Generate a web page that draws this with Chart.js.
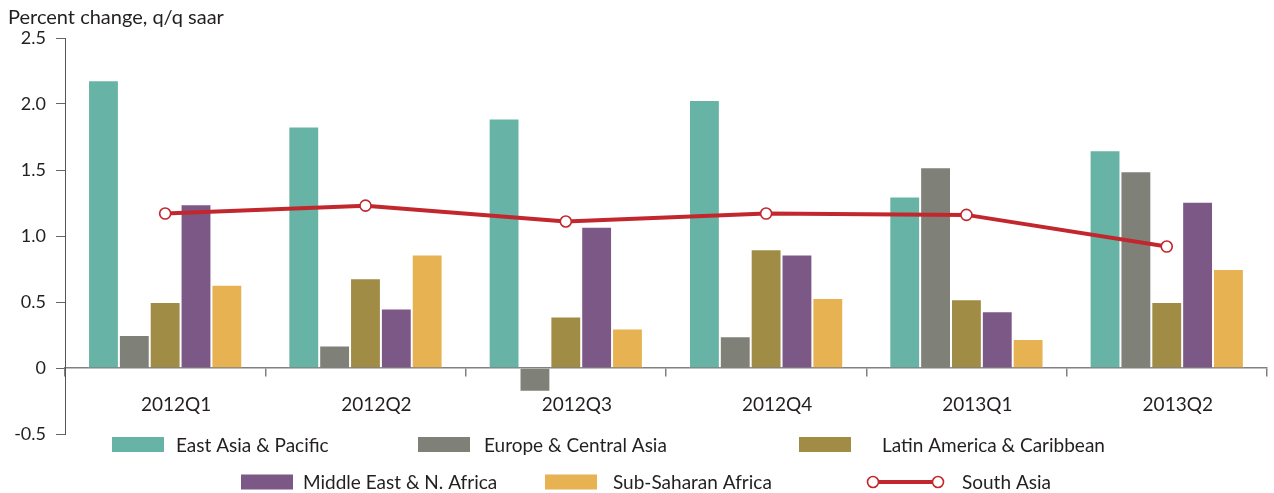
<!DOCTYPE html>
<html>
<head>
<meta charset="utf-8">
<script src="https://cdn.jsdelivr.net/npm/chart.js@4/dist/chart.umd.min.js"></script>
<style>
html,body{margin:0;padding:0;background:#fff;}
#wrap{width:1274px;height:493px;}
</style>
</head>
<body>
<div id="wrap"><canvas id="c" width="1274" height="493"></canvas></div>
<script>
const categories = ['2012Q1','2012Q2','2012Q3','2012Q4','2013Q1','2013Q2'];
const eastAsiaPacific = [2.18, 1.83, 1.89, 2.03, 1.30, 1.65];
const europeCentralAsia = [0.25, 0.17, -0.18, 0.24, 1.52, 1.49];
const latinAmericaCaribbean = [0.50, 0.68, 0.39, 0.90, 0.52, 0.50];
const middleEastNAfrica = [1.24, 0.45, 1.07, 0.86, 0.43, 1.26];
const subSaharanAfrica = [0.63, 0.86, 0.30, 0.53, 0.22, 0.75];
const southAsia = [1.17, 1.23, 1.11, 1.17, 1.16, 0.92];
const yTicks = [-0.5, 0, 0.5, 1.0, 1.5, 2.0, 2.5];
const titleText = 'Percent change, q/q saar';

const FONT = 'Lato, "Open Sans", sans-serif';
const TXT = '#231f20';
const colors = {
  eap: '#67b3a5', eca: '#7f8078', lac: '#a08c45', mena: '#7b5886', ssa: '#e6b252', sa: '#c1272d'
};

function barDs(label, data, color, order) {
  return { type: 'bar', label, data, backgroundColor: color, borderColor: 'rgba(255,255,255,0.55)',
    borderWidth: 1, barPercentage: 1.0, categoryPercentage: 0.77, order };
}

const legendItems = [
  { label: 'East Asia & Pacific', color: colors.eap, x: 112, y: 444.5, tx: 176 },
  { label: 'Europe & Central Asia', color: colors.eca, x: 418, y: 444.5, tx: 484 },
  { label: 'Latin America & Caribbean', color: colors.lac, x: 799, y: 444.5, tx: 882 },
  { label: 'Middle East & N. Africa', color: colors.mena, x: 241, y: 482, tx: 303 },
  { label: 'Sub-Saharan Africa', color: colors.ssa, x: 545, y: 482, tx: 613 },
  { label: 'South Asia', color: colors.sa, x: 873, y: 482, tx: 962, line: true }
];

const customDraw = {
  id: 'customDraw',
  afterDraw(chart) {
    const ctx = chart.ctx;
    ctx.save();
    ctx.fillStyle = TXT;
    ctx.font = '20px ' + FONT;
    ctx.textBaseline = 'alphabetic';
    ctx.textAlign = 'left';
    ctx.fillText(titleText, 8, 24);
    ctx.textBaseline = 'middle';
    legendItems.forEach(it => {
      if (it.line) {
        ctx.strokeStyle = it.color;
        ctx.lineWidth = 4;
        ctx.beginPath();
        ctx.moveTo(it.x, it.y);
        ctx.lineTo(it.x + 65, it.y);
        ctx.stroke();
        [it.x, it.x + 65].forEach(cx => {
          ctx.beginPath();
          ctx.arc(cx, it.y, 5.5, 0, Math.PI * 2);
          ctx.fillStyle = '#fff';
          ctx.fill();
          ctx.lineWidth = 1.6;
          ctx.stroke();
        });
      } else {
        ctx.fillStyle = it.color;
        ctx.fillRect(it.x, it.y - 7.5, 52, 15);
      }
      ctx.fillStyle = TXT;
      ctx.font = '19px ' + FONT;
      ctx.fillText(it.label, it.tx, it.y + 1);
    });
    ctx.restore();
  }
};

new Chart(document.getElementById('c'), {
  data: {
    labels: categories,
    datasets: [
      { type: 'line', label: 'South Asia', data: southAsia, borderColor: colors.sa, borderWidth: 4,
        pointRadius: 5.5, pointBackgroundColor: '#fff', pointBorderColor: colors.sa, pointBorderWidth: 1.6,
        tension: 0, order: 0 },
      barDs('East Asia & Pacific', eastAsiaPacific, colors.eap, 1),
      barDs('Europe & Central Asia', europeCentralAsia, colors.eca, 2),
      barDs('Latin America & Caribbean', latinAmericaCaribbean, colors.lac, 3),
      barDs('Middle East & N. Africa', middleEastNAfrica, colors.mena, 4),
      barDs('Sub-Saharan Africa', subSaharanAfrica, colors.ssa, 5)
    ]
  },
  options: {
    responsive: false,
    animation: false,
    layout: { padding: { top: 38, right: 4, bottom: 59, left: 0 } },
    plugins: { legend: { display: false }, tooltip: { enabled: false }, title: { display: false } },
    scales: {
      x: {
        position: { y: 0 },
        offset: true,
        grid: { display: true, drawOnChartArea: false, drawTicks: true, tickLength: 8, color: '#808080', lineWidth: 1.5, offset: true },
        border: { display: true, color: '#808080', width: 1.5 },
        ticks: { color: TXT, font: { family: FONT, size: 19 }, padding: 17, maxRotation: 0, labelOffset: 11 }
      },
      y: {
        min: -0.5, max: 2.5,
        afterBuildTicks(scale) { scale.ticks = yTicks.map(v => ({ value: v })); },
        afterFit(scale) { scale.width = 65; },
        grid: { display: true, drawOnChartArea: false, drawTicks: true, tickLength: 9, color: '#666', lineWidth: 1 },
        border: { display: true, color: '#555', width: 1 },
        ticks: { color: TXT, font: { family: FONT, size: 18 }, padding: 10,
          callback: v => v === 0 ? '0' : Number(v).toFixed(1) }
      }
    }
  },
  plugins: [customDraw]
});
</script>
</body>
</html>
